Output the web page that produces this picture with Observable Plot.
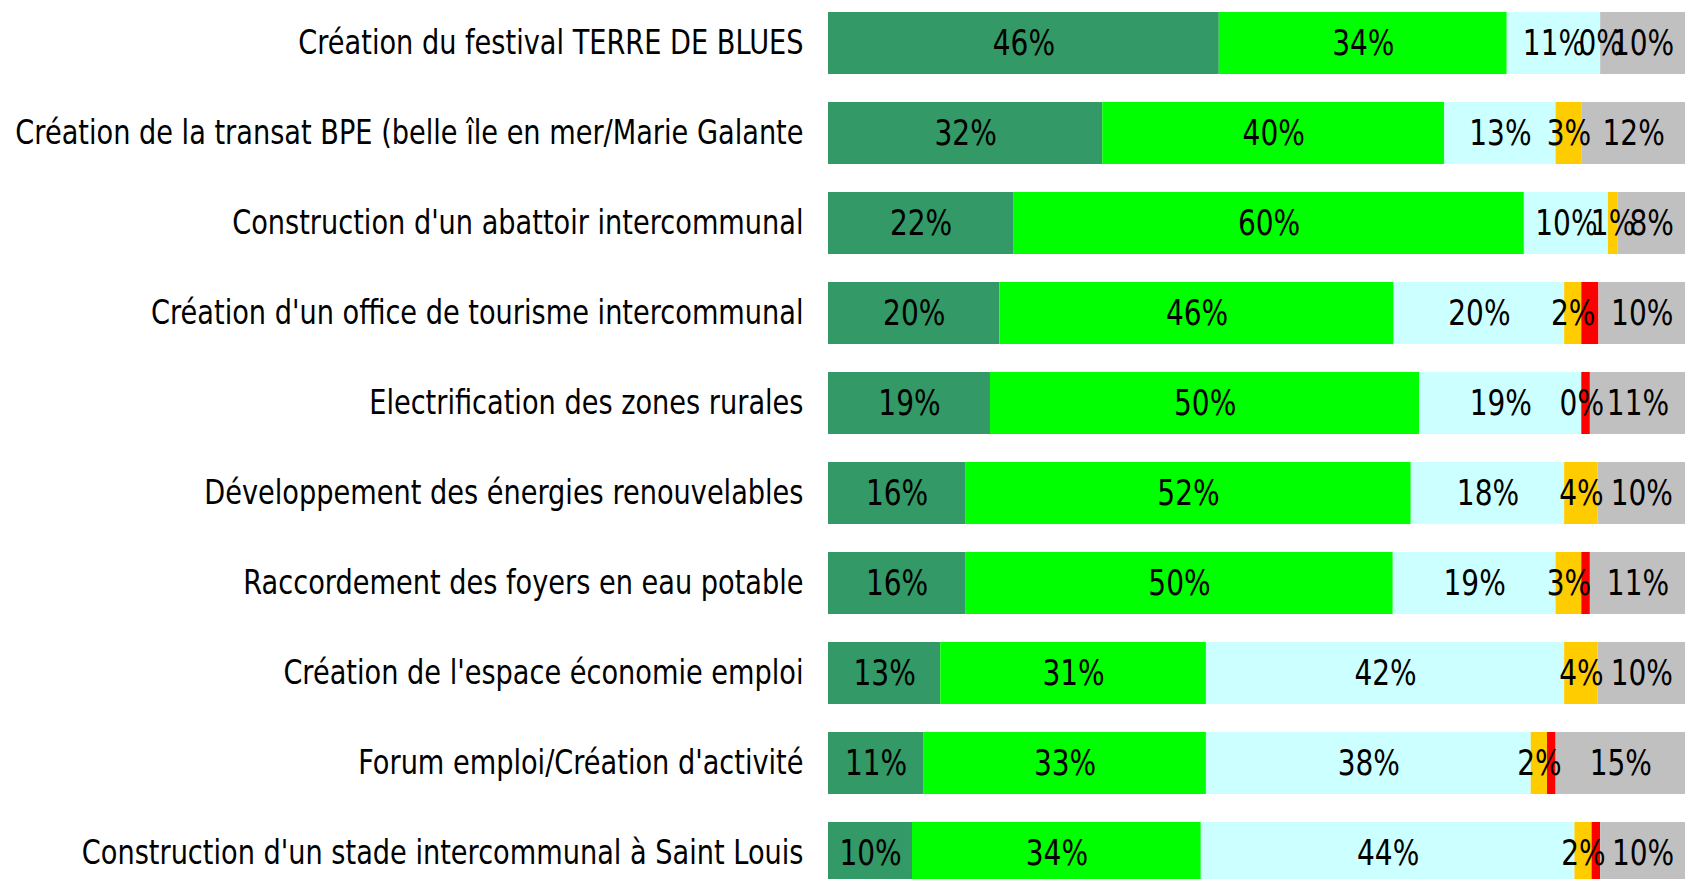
<!DOCTYPE html>
<html>
<head>
<meta charset="utf-8">
<script src="https://cdn.jsdelivr.net/npm/d3@7"></script>
<script src="https://cdn.jsdelivr.net/npm/@observablehq/plot@0.6"></script>
<style>
  html, body { margin: 0; padding: 0; background: white; overflow: hidden; }
  #chart { width: 1690px; height: 879px; overflow: hidden; }
</style>
</head>
<body>
<div id="chart"></div>
<script>
const categories = [
  "Création du festival TERRE DE BLUES",
  "Création de la transat BPE (belle île en mer/Marie Galante",
  "Construction d'un abattoir intercommunal",
  "Création d'un office de tourisme intercommunal",
  "Electrification des zones rurales",
  "Développement des énergies renouvelables",
  "Raccordement des foyers en eau potable",
  "Création de l'espace économie emploi",
  "Forum emploi/Création d'activité",
  "Construction d'un stade intercommunal à Saint Louis"
];
const seriesNames = ["Très important", "Important", "Moyennement important", "Peu important", "Pas important", "Sans opinion"];
const seriesColors = ["#339966", "#00FF00", "#CCFFFF", "#FFCC00", "#FF0000", "#C0C0C0"];
const tresImportant = [45.6, 32.0, 21.6, 20.0, 18.9, 16.0, 16.0, 13.1, 11.1, 9.8];
const important     = [33.6, 39.9, 59.6, 46.0, 50.1, 52.0, 49.9, 31.0, 33.0, 33.7];
const moyennement   = [10.9, 13.0, 9.8, 19.9, 18.9, 17.9, 19.0, 41.8, 37.9, 43.6];
const peuImportant  = [0, 3.0, 1.1, 2.0, 0, 3.9, 3.0, 3.9, 1.9, 2.0];
const pasImportant  = [0, 0, 0, 2.0, 1.0, 0, 1.0, 0, 1.0, 1.0];
const sansOpinion   = [9.9, 12.1, 7.9, 10.1, 11.1, 10.2, 11.1, 10.2, 15.1, 9.9];
const hiddenLabelSeries = ["Pas important"];

const seriesValues = [tresImportant, important, moyennement, peuImportant, pasImportant, sansOpinion];
const data = [];
categories.forEach((cat, i) => {
  seriesNames.forEach((s, j) => {
    data.push({cat, series: s, value: seriesValues[j][i]});
  });
});

const font = "DejaVu Sans, Verdana, sans-serif";
const plot = Plot.plot({
  width: 1690,
  height: 879,
  marginLeft: 828,
  marginRight: 5,
  marginTop: 0,
  marginBottom: 0,
  style: {fontFamily: font, background: "white", overflow: "hidden"},
  x: {domain: [0, 100], axis: null},
  y: {domain: categories, range: [10, 885], paddingInner: 0.3137, paddingOuter: 0, label: null},
  color: {domain: seriesNames, range: seriesColors},
  marks: [
    Plot.barX(data, Plot.stackX({x: "value", y: "cat", fill: "series", order: seriesNames, inset: 0})),
    Plot.text(data, Plot.stackX({
      x: "value", y: "cat", z: "series", order: seriesNames,
      text: d => hiddenLabelSeries.includes(d.series) ? null : Math.round(d.value) + "%",
      fill: "black", fontSize: 35, fontFamily: font
    })),
    Plot.axisY({tickSize: 0, tickPadding: 25, fontSize: 34, fontFamily: font, color: "black", label: null})
  ]
});
plot.querySelectorAll("text").forEach(t => {
  const tr = t.getAttribute("transform");
  if (tr) t.setAttribute("transform", tr + " scale(0.8,1)");
});
document.getElementById("chart").appendChild(plot);
</script>
</body>
</html>
